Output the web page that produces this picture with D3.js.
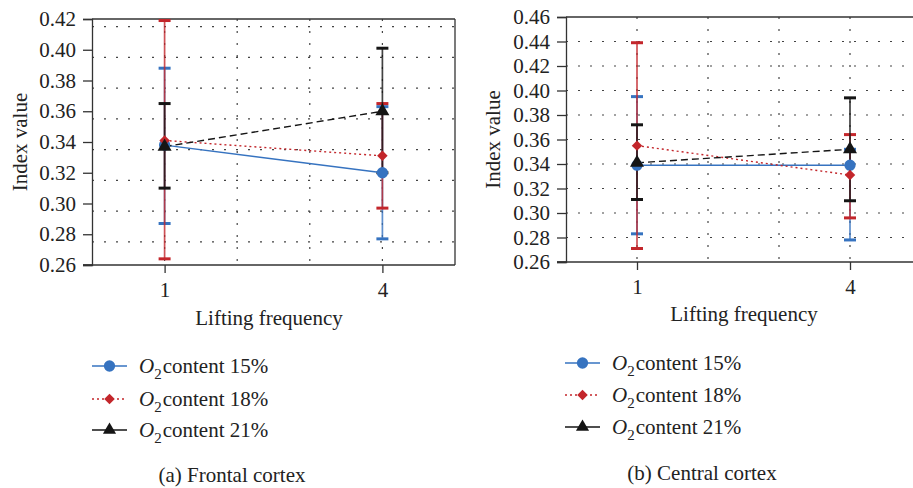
<!DOCTYPE html>
<html>
<head>
<meta charset="utf-8">
<script src="https://cdn.jsdelivr.net/npm/d3@7"></script>
<style>
  body { margin: 0; background: #fff; }
</style>
</head>
<body>
<svg id="chart" width="913" height="488"></svg>
<script>
// lifting frequency categories
const freqs = [1, 4];
const seriesLabels = ["15%", "18%", "21%"];

// (a) frontal cortex: means and error bar ends
const frontalMean15 = [0.338, 0.320];
const frontalLow15 = [0.287, 0.277];
const frontalHigh15 = [0.388, 0.363];
const frontalMean18 = [0.341, 0.331];
const frontalLow18 = [0.264, 0.297];
const frontalHigh18 = [0.419, 0.365];
const frontalMean21 = [0.337, 0.360];
const frontalLow21 = [0.310, 0.320];
const frontalHigh21 = [0.365, 0.401];

// (b) central cortex
const centralMean15 = [0.339, 0.339];
const centralLow15 = [0.283, 0.278];
const centralHigh15 = [0.395, 0.352];
const centralMean18 = [0.355, 0.331];
const centralLow18 = [0.271, 0.296];
const centralHigh18 = [0.439, 0.364];
const centralMean21 = [0.341, 0.352];
const centralLow21 = [0.311, 0.310];
const centralHigh21 = [0.372, 0.394];

// axis ticks
const frontalTicks = [0.26, 0.28, 0.30, 0.32, 0.34, 0.36, 0.38, 0.40, 0.42];
const frontalGrid = [0.275, 0.295, 0.315, 0.335, 0.355, 0.375, 0.395, 0.415];
const centralTicks = [0.26, 0.28, 0.30, 0.32, 0.34, 0.36, 0.38, 0.40, 0.42, 0.44, 0.46];
const centralGrid = [0.28, 0.30, 0.32, 0.34, 0.36, 0.38, 0.40, 0.42, 0.44];
const xGrid = [1, 2, 3, 4];

const colors = ["#3673c0", "#c3262b", "#151515"];
const dashes = [null, "2,3", "7,4"];
const legDashes = [null, "2,3", null];
const FONT = "'Liberation Serif', 'DejaVu Serif', serif";
const FS = "21px";

const svg = d3.select("#chart");

// diamond as rotated square
function marker(i, size) {
    if (i === 1) return d3.symbol().type(d3.symbolSquare).size(size)();
    return d3.symbol().type([d3.symbolCircle, null, d3.symbolTriangle][i]).size(size)();
}

function drawPanel(cfg) {
    const x = d3.scaleLinear().domain([0, 5]).range(cfg.xr);
    const y = d3.scaleLinear().domain([cfg.ticks[0], cfg.ticks[cfg.ticks.length - 1]]).range(cfg.yr);
    const g = svg.append("g");

    // dotted grid
    g.selectAll(".gy").data(cfg.grid).enter().append("line")
        .attr("x1", cfg.xr[0]).attr("x2", Math.min(cfg.xr[1], 913))
        .attr("y1", d => y(d)).attr("y2", d => y(d))
        .attr("stroke", "#444").attr("stroke-width", 1.2)
        .attr("stroke-dasharray", "2,10");
    g.selectAll(".gx").data(xGrid).enter().append("line")
        .attr("x1", d => x(d)).attr("x2", d => x(d))
        .attr("y1", cfg.yr[1]).attr("y2", cfg.yr[0])
        .attr("stroke", "#444").attr("stroke-width", 1.2)
        .attr("stroke-dasharray", "2,10");

    // frame
    g.append("line").attr("x1", cfg.xr[0]).attr("x2", cfg.xr[1])
        .attr("y1", cfg.yr[1]).attr("y2", cfg.yr[1])
        .attr("stroke", "#333").attr("stroke-width", 1.3);
    g.append("line").attr("x1", cfg.xr[1]).attr("x2", cfg.xr[1])
        .attr("y1", cfg.yr[0]).attr("y2", cfg.yr[1])
        .attr("stroke", "#333").attr("stroke-width", 1.3);

    // axes
    const yAxis = d3.axisLeft(y).tickValues(cfg.ticks).tickFormat(d3.format(".2f"))
        .tickSize(9).tickPadding(7);
    g.append("g").attr("transform", "translate(" + cfg.xr[0] + ",0)").call(yAxis)
        .attr("font-family", FONT).attr("font-size", FS)
        .call(a => a.select(".domain").attr("stroke", "#333").attr("stroke-width", 1.3))
        .call(a => a.selectAll(".tick line").attr("stroke", "#333").attr("stroke-width", 1.3))
        .call(a => a.selectAll("text").attr("fill", "#222"));
    const xAxis = d3.axisBottom(x).tickValues(freqs).tickFormat(d3.format("d")).tickSize(8).tickPadding(9);
    g.append("g").attr("transform", "translate(0," + cfg.yr[0] + ")").call(xAxis)
        .attr("font-family", FONT).attr("font-size", FS)
        .call(a => a.select(".domain").attr("stroke", "#333").attr("stroke-width", 1.3)
            .attr("d", "M" + (cfg.xr[0] - 9) + ",0H" + cfg.xr[1]))
        .call(a => a.selectAll(".tick line").attr("stroke", "#333").attr("stroke-width", 1.3))
        .call(a => a.selectAll("text").attr("fill", "#222"));
    // top border extends over the tick
    g.append("line").attr("x1", cfg.xr[0] - 9).attr("x2", cfg.xr[0])
        .attr("y1", cfg.yr[0]).attr("y2", cfg.yr[0]).attr("stroke", "#333").attr("stroke-width", 1.3);

    // titles
    g.append("text").attr("transform", "translate(" + cfg.yTitleX + "," + ((cfg.yr[0] + cfg.yr[1]) / 2) + ") rotate(-90)")
        .attr("text-anchor", "middle").attr("dy", "0.35em")
        .attr("font-family", FONT).attr("font-size", FS).attr("fill", "#222").text("Index value");
    g.append("text").attr("x", cfg.xTitleX).attr("y", cfg.xTitleY)
        .attr("text-anchor", "middle")
        .attr("font-family", FONT).attr("font-size", FS).attr("fill", "#222").text("Lifting frequency");

    // series
    cfg.series.forEach((s, i) => {
        const pts = freqs.map((f, j) => ({f: f, m: s.mean[j], lo: s.low[j], hi: s.high[j]}));
        // error bars
        g.selectAll(".eb" + i).data(pts).enter().append("line")
            .attr("x1", d => x(d.f)).attr("x2", d => x(d.f))
            .attr("y1", d => y(d.lo)).attr("y2", d => y(d.hi))
            .attr("stroke", colors[i]).attr("stroke-width", 1.7).attr("opacity", 0.8);
        ["lo", "hi"].forEach(k => {
            g.selectAll(".cap" + i + k).data(pts).enter().append("line")
                .attr("x1", d => x(d.f) - 6).attr("x2", d => x(d.f) + 6)
                .attr("y1", d => y(d[k])).attr("y2", d => y(d[k]))
                .attr("stroke", colors[i]).attr("stroke-width", 3);
        });
    });
    cfg.series.forEach((s, i) => {
        const line = d3.line().x((d, j) => x(freqs[j])).y(d => y(d));
        g.append("path").datum(s.mean).attr("d", line)
            .attr("fill", "none").attr("stroke", colors[i]).attr("stroke-width", 1.4)
            .attr("stroke-dasharray", dashes[i]);
    });
    cfg.series.forEach((s, i) => {
        const size = [100, 55, 85][i];
        g.selectAll(".mk" + i).data(s.mean).enter().append("path")
            .attr("d", marker(i, size))
            .attr("transform", (d, j) => "translate(" + x(freqs[j]) + "," + y(d) + ")" + (i === 1 ? " rotate(45)" : ""))
            .attr("fill", colors[i]);
    });

    // legend
    const lg = g.append("g");
    seriesLabels.forEach((lab, i) => {
        const yy = cfg.legY[i];
        lg.append("line").attr("x1", cfg.legX).attr("x2", cfg.legX + 35)
            .attr("y1", yy).attr("y2", yy)
            .attr("stroke", colors[i]).attr("stroke-width", 1.4).attr("stroke-dasharray", legDashes[i]);
        lg.append("path").attr("d", marker(i, [100, 55, 75][i]))
            .attr("transform", "translate(" + (cfg.legX + 17.5) + "," + yy + ")" + (i === 1 ? " rotate(45)" : ""))
            .attr("fill", colors[i]);
        const t = lg.append("text").attr("x", cfg.legX + 47).attr("y", yy + 7)
            .attr("font-family", FONT).attr("font-size", FS).attr("fill", "#222");
        t.append("tspan").attr("font-style", "italic").text("O");
        t.append("tspan").attr("dy", 6).attr("font-size", "15px").text("2");
        t.append("tspan").attr("dy", -6).attr("dx", 1).text("content " + lab);
    });

    g.append("text").attr("x", cfg.capX).attr("y", cfg.capY).attr("text-anchor", "middle")
        .attr("font-family", FONT).attr("font-size", FS).attr("fill", "#222").text(cfg.caption);
}

drawPanel({
    xr: [92, 455], yr: [265, 19],
    ticks: frontalTicks, grid: frontalGrid,
    yTitleX: 20, xTitleX: 269, xTitleY: 325,
    legX: 92, legY: [366, 399, 430],
    capX: 232, capY: 482, caption: "(a) Frontal cortex",
    series: [
        {mean: frontalMean15, low: frontalLow15, high: frontalHigh15},
        {mean: frontalMean18, low: frontalLow18, high: frontalHigh18},
        {mean: frontalMean21, low: frontalLow21, high: frontalHigh21}
    ]
});

drawPanel({
    xr: [566, 921], yr: [262, 17],
    ticks: centralTicks, grid: centralGrid,
    yTitleX: 493, xTitleX: 744, xTitleY: 321,
    legX: 565, legY: [363, 395, 427],
    capX: 702, capY: 480, caption: "(b) Central cortex",
    series: [
        {mean: centralMean15, low: centralLow15, high: centralHigh15},
        {mean: centralMean18, low: centralLow18, high: centralHigh18},
        {mean: centralMean21, low: centralLow21, high: centralHigh21}
    ]
});
</script>
</body>
</html>
